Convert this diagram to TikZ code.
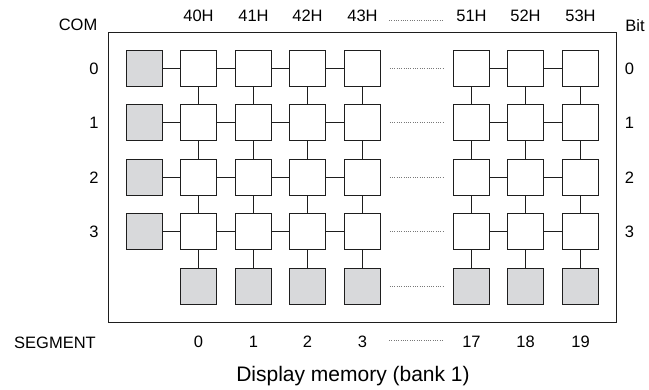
\documentclass[tikz,border=0pt]{standalone}
\usepackage{fontspec}
\setmainfont{Liberation Sans}
\begin{document}
\begin{tikzpicture}[x=1pt,y=-1pt,line join=miter,
  cell/.style={draw=linec,line width=1.5pt,fill=white,minimum size=36pt,inner sep=0pt},
  pad/.style={cell,fill=padc},
  wire/.style={draw=linec,line width=1.5pt},
  dots/.style={draw=dotc,line width=1pt,dash pattern=on 1pt off 1.3pt},
  lab/.style={font=\fontsize{16.5}{19}\selectfont,inner sep=0pt}]

  \definecolor{linec}{RGB}{30,30,30}
  \definecolor{padc}{RGB}{216,217,219}
  \definecolor{dotc}{RGB}{120,120,120}
  \useasboundingbox (0,0) rectangle (649,389);

  % ---- frame ----
  \draw[linec,line width=1.6pt] (108.5,32.5) rectangle (616.5,322.5);

  % ---- cells (rows 0..3), COM pads on the left ----
  \foreach \j/\y in {0/68.5,1/122.5,2/177.5,3/231.5} {
    \node[pad] (com\j) at (144.5,\y) {};
    \foreach \k/\x in {0/198.5,1/253.5,2/307.5,3/362.5,5/471.5,6/525.5,7/580.5}
      \node[cell] (m\k\j) at (\x,\y) {};
  }
  % segment pads (row 4)
  \foreach \k/\x in {0/198.5,1/253.5,2/307.5,3/362.5,5/471.5,6/525.5,7/580.5}
    \node[pad] (m\k4) at (\x,286.5) {};

  % ---- wires ----
  \foreach \j in {0,...,3} {
    \draw[wire] (com\j) -- (m0\j) (m0\j) -- (m1\j) (m1\j) -- (m2\j) (m2\j) -- (m3\j);
    \draw[wire] (m5\j) -- (m6\j) (m6\j) -- (m7\j);
  }
  \foreach \k in {0,1,2,3,5,6,7}
    \foreach \j/\n in {0/1,1/2,2/3,3/4}
      \draw[wire] (m\k\j) -- (m\k\n);

  % dotted gaps between 43H and 51H
  \foreach \j in {0,...,4}
    \draw[dots] ([xshift=8.5pt]m3\j.east) -- ([xshift=-8.5pt]m5\j.west);

  % ---- labels ----
  \foreach \k/\t in {0/40H,1/41H,2/42H,3/43H,5/51H,6/52H,7/53H}
    \node[lab] (h\k) at (m\k0 |- 0,16) {\t};
  \foreach \k/\t in {0/0,1/1,2/2,3/3,5/17,6/18,7/19}
    \node[lab] (s\k) at (m\k0 |- 0,342) {\t};
  \draw[dots] (389,20.5) -- (444,20.5);
  \draw[dots] (389,340.5) -- (444,340.5);

  \node[lab] (com) at (78,25) {COM};
  \node[lab] (bit) at (635,26) {Bit};
  \foreach \j in {0,...,3} {
    \node[lab] (cl\j) at (94,0|-com\j) {\j};
    \node[lab] (br\j) at (629.5,0|-com\j) {\j};
  }
  \node[lab] (seg) at (55,343) {SEGMENT};

  % title
  \node[font=\fontsize{21}{25}\selectfont,inner sep=0pt] (title) at (353,376) {Display memory (bank 1)};
\end{tikzpicture}
\end{document}
